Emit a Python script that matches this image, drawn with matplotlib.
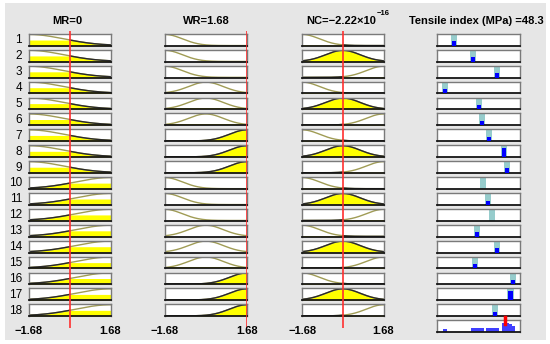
import numpy as np
import matplotlib
matplotlib.use('Agg')
import matplotlib.pyplot as plt
from matplotlib.patches import Rectangle

plt.rcParams['font.family'] = ['Liberation Sans', 'DejaVu Sans']

# ---------------- data ----------------
rule_numbers = list(range(1, 19))
mr_mf_index = [0] * 9 + [1] * 9
wr_mf_index = [0, 0, 0, 1, 1, 1, 2, 2, 2] * 2
nc_mf_index = [0, 1, 2] * 6

mr_centers = [-1.68, 1.68]
mr_sigma = 1.427
wr_centers = [-1.68, 0.0, 1.68]
wr_sigma = 0.713
nc_centers = [-1.68, 0.0, 1.68]
nc_sigma = 0.713

mr_value = 0.0
wr_value = 1.68
nc_value = -2.22e-16

out_lo, out_hi = 26.5, 53.0
out_values = [32.0, 38.0, 45.7, 28.9, 39.9, 40.9, 43.2, 48.0, 48.9,
              41.1, 42.8, 44.2, 39.4, 45.8, 38.6, 50.9, 50.1, 45.05]
blue_heights = [0.38, 0.38, 0.38, 0.38, 0.38, 0.38, 0.38, 0.8, 0.45,
                0.0, 0.35, 0.0, 0.38, 0.38, 0.38, 0.38, 0.8, 0.38]
agg_heights = [0.0, 0.3, 0.3, 0.25, 0.3, 0.3, 0.3, 0.75, 0.75,
               0.3, 0.3, 0.3, 0.3, 0.3, 0.3, 0.55, 0.72, 0.3]
output_value = 48.3

# ---------------- layout ----------------
W, H = 550, 344
fig = plt.figure(figsize=(W / 100, H / 100), dpi=100, facecolor='white')
bg = Rectangle((5 / W, 1 - 340 / H), 541 / W, 337 / H,
               transform=fig.transFigure, facecolor='#e6e6e6',
               edgecolor='none', zorder=-10)
fig.patches.append(bg)

def ax_at(x0, y0, x1, y1, **kw):
    return fig.add_axes([x0 / W, 1 - y1 / H, (x1 - x0) / W, (y1 - y0) / H], **kw)

row_top0, row_pitch, row_h = 34.0, 15.9, 11.8
cols = {'MR': (29.0, 110.5), 'WR': (165.0, 246.8), 'NC': (302.3, 383.5), 'OUT': (437.3, 519.5)}

yellow = '#ffff00'
olive = '#a09c55'
dark = '#2a2a2a'
border = '#7a7a7a'

def style_box(ax):
    ax.set_xticks([]); ax.set_yticks([])
    ax.set_facecolor('white')
    for s in ['top', 'left', 'right']:
        ax.spines[s].set_color(border)
        ax.spines[s].set_linewidth(1.0)
    ax.spines['bottom'].set_color('#151515')
    ax.spines['bottom'].set_linewidth(1.3)

def gauss(x, c, s):
    return np.exp(-(x - c) ** 2 / (2 * s ** 2))

xs = np.linspace(-1.68, 1.68, 400)
input_cols = [('MR', mr_mf_index, mr_centers, mr_sigma, mr_value),
              ('WR', wr_mf_index, wr_centers, wr_sigma, wr_value),
              ('NC', nc_mf_index, nc_centers, nc_sigma, nc_value)]

for name, idx, centers, sigma, val in input_cols:
    x0, x1 = cols[name]
    for i, k in enumerate(idx):
        top = row_top0 + i * row_pitch
        ax = ax_at(x0, top, x1, top + row_h)
        style_box(ax)
        mf = gauss(xs, centers[k], sigma)
        mu = gauss(val, centers[k], sigma)
        clip = np.minimum(mf, mu)
        ax.fill_between(xs, 0, clip, color=yellow, lw=0)
        ax.plot(xs, mf, color=olive, lw=1.0)
        ax.plot(xs, np.where(mf <= mu + 1e-9, mf, np.nan), color=dark, lw=1.0)
        ax.set_xlim(-1.68, 1.68)
        ax.set_ylim(-0.02, 1.04)
    # red line overlay
    ov = ax_at(x0, 31, x1, 328)
    ov.set_xlim(-1.68, 1.68); ov.set_ylim(0, 1)
    ov.axis('off'); ov.patch.set_alpha(0)
    ov.axvline(val, color='#ff3030', lw=1.2)
    fig.text(x0 / W, 1 - 331 / H, '\u22121.68', ha='center', va='center',
             fontsize=8, fontweight='bold')
    fig.text(x1 / W, 1 - 331 / H, '1.68', ha='center', va='center',
             fontsize=8, fontweight='bold')

# row numbers
for i, r in enumerate(rule_numbers):
    top = row_top0 + i * row_pitch
    fig.text(22 / W, 1 - (top + row_h / 2 + 0.5) / H, str(r), ha='right', va='center',
             fontsize=8.5)

# output column
ox0, ox1 = cols['OUT']
span = out_hi - out_lo
for i, v in enumerate(out_values):
    top = row_top0 + i * row_pitch
    ax = ax_at(ox0, top, ox1, top + row_h)
    style_box(ax)
    ax.set_xlim(out_lo, out_hi); ax.set_ylim(0, 1)
    ax.bar(v, 1.0, width=span * 0.075, bottom=0, color='#96cccc', zorder=2)
    if blue_heights[i] > 0:
        ax.bar(v, blue_heights[i], width=span * 0.05, bottom=0, color='#0000ff', zorder=3)

# aggregate row
top = row_top0 + 18 * row_pitch
ax = ax_at(ox0, top, ox1, top + row_h)
style_box(ax)
ax.set_xlim(out_lo, out_hi); ax.set_ylim(0, 1)
for v, h in zip(out_values, agg_heights):
    if h > 0:
        ax.bar(v, h, width=span * 0.045, bottom=0, color='#4040ff', zorder=2)
ax.plot([output_value, output_value], [0.72, 1.3], color='#ff0000', lw=2.5,
        zorder=4, clip_on=False)

# titles
fig.text(67 / W, 1 - 21 / H, 'MR=0', ha='center', va='center', fontsize=8, fontweight='bold')
fig.text(206 / W, 1 - 21 / H, 'WR=1.68', ha='center', va='center', fontsize=8, fontweight='bold')
fig.text(376 / W, 1 - 21 / H, 'NC=\u22122.22\u00d710', ha='right', va='center',
         fontsize=8, fontweight='bold')
fig.text(376.5 / W, 1 - 13.5 / H, '\u221216', ha='left', va='center',
         fontsize=5.5, fontweight='bold')
fig.text(476 / W, 1 - 21 / H, 'Tensile index (MPa) =48.3', ha='center', va='center',
         fontsize=8, fontweight='bold')

fig.savefig('out.png', dpi=100, facecolor='white')
